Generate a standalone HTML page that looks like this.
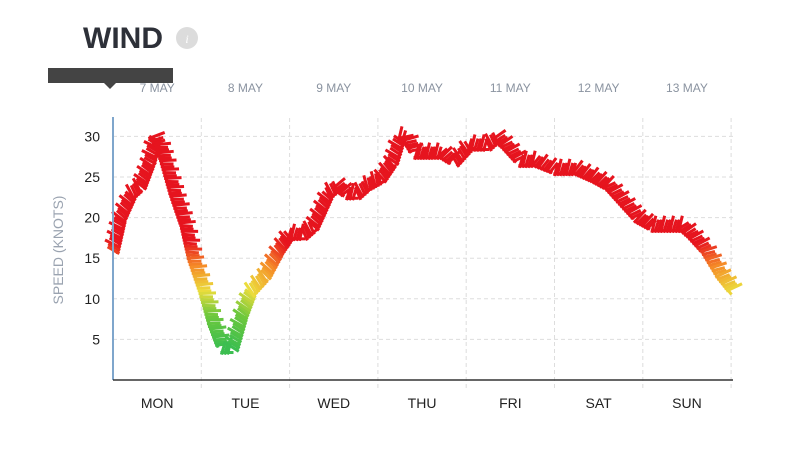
<!DOCTYPE html>
<html><head><meta charset="utf-8"><style>
body{margin:0;width:799px;height:461px;background:#fff;overflow:hidden;font-family:"Liberation Sans",sans-serif}
svg{position:absolute;left:0;top:0}
</style></head><body>
<svg id="c" width="799" height="461">
<text x="83" y="48" font-size="30" font-weight="bold" fill="#2d3038">WIND</text>
<g><circle cx="187" cy="38" r="11" fill="#dcdcdc"/><text x="187" y="43" font-size="12" fill="#fff" text-anchor="middle" font-style="italic" font-family="Liberation Serif,serif">i</text></g>
<text transform="translate(63,250) rotate(-90)" text-anchor="middle" font-size="14" fill="#9aa3b0">SPEED (KNOTS)</text>
<g id="grid"></g><g id="marks"></g><g id="axes"></g>
<rect x="48" y="68" width="125" height="15" fill="#444"/>
<polygon points="104,83 116,83 110,89" fill="#444"/>
</svg>
<script>
const days=["MON","TUE","WED","THU","FRI","SAT","SUN"];
const dates=["7 MAY","8 MAY","9 MAY","10 MAY","11 MAY","12 MAY","13 MAY"];
const yTicks=[5,10,15,20,25,30];
const hours=[0,2,5,7.5,10,11.5,13,14.5,17,20,22,25,27.5,30,32.5,35,37.5,41.5,45,48,52,54.5,58.5,61,64,66.5,69,73,76,78,80,82.5,87,89.5,93,97,99.5,102,104.5,107,111,115,120.5,126,131,135,139,143,147,151,155,157.5,161.5,165.5,169];
const speeds=[16,20,23,24,27,30,29,27,23,19,15,11,7,4,4,8,11,13,16,18,18,19,23,24,23,23,24,25,27,30,30,28,28,28,27,29,29,29,30,29,27,27,26,26,25,24,22,20,19,19,19,18,16,13,11];
const NS="http://www.w3.org/2000/svg";
const x0=113,pxDay=88.3,yZero=380,pxKnot=40.6/5;
const xs=h=>x0+h/24*pxDay, ys=v=>yZero-v*pxKnot;
function mk(p,tag,a){const e=document.createElementNS(NS,tag);for(const k in a)e.setAttribute(k,a[k]);p.appendChild(e);return e;}
const grid=document.getElementById('grid'),axes=document.getElementById('axes'),marks=document.getElementById('marks');
yTicks.forEach(v=>{
 const l=mk(grid,'line',{x1:x0,x2:733,y1:ys(v),y2:ys(v),stroke:'#ddd','stroke-dasharray':'4,3'});
 
 
 const t=mk(axes,'text',{x:100,y:ys(v)+5,'text-anchor':'end','font-size':14,fill:'#222'});t.textContent=v;
 
 
});
for(let i=1;i<=7;i++){const l=mk(grid,'line',{x1:x0+i*pxDay,x2:x0+i*pxDay,y1:118,y2:390,stroke:'#ddd','stroke-dasharray':'4,3'});
 
 }
days.forEach((d,i)=>{const cx=x0+(i+0.5)*pxDay;
 const t=mk(axes,'text',{x:cx,y:408,'text-anchor':'middle','font-size':14,fill:'#222'});t.textContent=d;
 
 
 const t2=mk(axes,'text',{x:cx,y:92,'text-anchor':'middle','font-size':12,fill:'#8a93a0'});t2.textContent=dates[i];
 
 });
function col(v){const stops=[[4,[60,190,80]],[8,[110,200,60]],[11,[235,220,60]],[14,[245,140,40]],[17,[230,20,30]]];
 if(v<=stops[0][0])return 'rgb('+stops[0][1]+')';
 for(let i=1;i<stops.length;i++)if(v<=stops[i][0]){const f=(v-stops[i-1][0])/(stops[i][0]-stops[i-1][0]);const a=stops[i-1][1],b=stops[i][1];return 'rgb('+a.map((c,j)=>Math.round(c+(b[j]-c)*f))+')';}
 return 'rgb(230,20,30)';}
const g=mk(marks,'g',{});


let cnt=0;
for(let i=0;i<hours.length-1;i++){
 const ax=xs(hours[i]),ay=ys(speeds[i]),bx=xs(hours[i+1]),by=ys(speeds[i+1]);
 const L=Math.hypot(bx-ax,by-ay),ux=(bx-ax)/L,uy=(by-ay)/L,nx=-uy,ny=ux;
 const n=Math.max(1,Math.round(L/3));
 for(let k=0;k<n;k++){const f=k/n,v=speeds[i]+(speeds[i+1]-speeds[i])*f;
  const x=ax+(bx-ax)*f,y=ay+(by-ay)*f,c=col(v);cnt++;
  const s=cnt%2?1:-1, ext=(cnt%3===0)?4:0;
  const b=mk(g,'line',{x1:x-nx*(6+ext)+ux*2,y1:y-ny*(6+ext)+uy*2,x2:x+nx*7-ux*2,y2:y+ny*7-uy*2,stroke:c,'stroke-width':3});
  
  
  if(cnt%2)mk(g,'line',{x1:x+nx*s*5-ux*3,y1:y+ny*s*5-uy*3,x2:x+nx*s*5+ux*4,y2:y+ny*s*5+uy*4,stroke:c,'stroke-width':3});}
}
const ya=mk(axes,'line',{x1:x0,x2:x0,y1:117,y2:380,stroke:'#7fa6cc','stroke-width':2});


const xa=mk(axes,'line',{x1:x0,x2:733,y1:380,y2:380,stroke:'#333','stroke-width':1.5});


</script>
</body></html>
